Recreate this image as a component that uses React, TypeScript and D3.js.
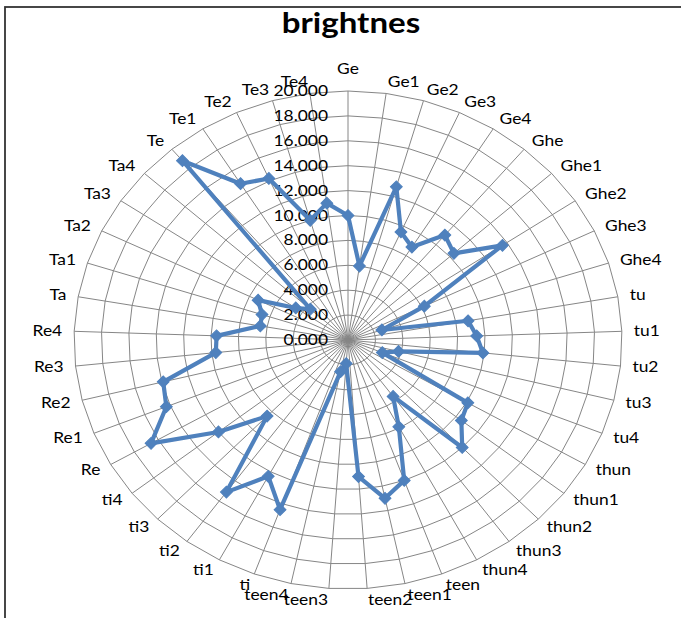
import * as d3 from "d3";
import React from "react";

// categories around the radar, clockwise from the top
const categories = [
  "Ge", "Ge1", "Ge2", "Ge3", "Ge4",
  "Ghe", "Ghe1", "Ghe2", "Ghe3", "Ghe4",
  "tu", "tu1", "tu2", "tu3", "tu4",
  "thun", "thun1", "thun2", "thun3", "thun4",
  "teen", "teen1", "teen2", "teen3", "teen4",
  "ti", "ti1", "ti2", "ti3", "ti4",
  "Re", "Re1", "Re2", "Re3", "Re4",
  "Ta", "Ta1", "Ta2", "Ta3", "Ta4",
  "Te", "Te1", "Te2", "Te3", "Te4",
];

// brightness values
const brightness = [
  10.0, 6.0, 12.8, 9.5, 8.8,
  11.0, 10.4, 13.6, 6.2, 2.6,
  8.9, 9.4, 9.9, 3.8, 2.7,
  10.1, 10.5, 12.0, 5.6, 7.9,
  12.0, 13.0, 11.0, 1.9, 2.6,
  14.5, 12.4, 15.1, 8.5, 12.0,
  16.6, 14.3, 13.9, 9.7, 9.6,
  6.5, 6.6, 7.3, 4.6, 3.7,
  18.8, 14.8, 14.2, 10.0, 11.1,
];

const tickValues = [0, 2, 4, 6, 8, 10, 12, 14, 16, 18, 20];

const W = 681;
const H = 618;
const cx = 348;
const cy = 340;
const blue = "#4F81BD";
const grid = "#868686";
const font = "Lato, 'Open Sans', sans-serif";
const textStretch = 1.2; // the picture is wider than it is tall

export default function App() {
  const n = categories.length;
  const angle = d3.scaleLinear().domain([0, n]).range([0, 2 * Math.PI]);
  const rx = d3.scaleLinear().domain([0, 20]).range([0, 274]);
  const ry = d3.scaleLinear().domain([0, 20]).range([0, 249]);
  const fmt = d3.format(".3f");

  const px = (i: number, v: number) => cx + rx(v) * Math.sin(angle(i));
  const py = (i: number, v: number) => cy - ry(v) * Math.cos(angle(i));

  // polygon through all spokes at a given value
  const ring = (v: number) =>
    d3
      .line<number>()
      .x((i) => px(i, v))
      .y((i) => py(i, v))
      .curve(d3.curveLinearClosed)(d3.range(n)) as string;

  const seriesLine = d3
    .line<number>()
    .x((d, i) => px(i, d))
    .y((d, i) => py(i, d))
    .curve(d3.curveLinearClosed);

  const marker = d3.symbol().type(d3.symbolSquare).size(70)() as string;

  return (
    <svg
      width={W}
      height={H}
      style={{ position: "absolute", left: 0, top: 0, background: "#fff" }}
    >
      <rect x={0} y={0} width={W} height={H} fill="#fff" />
      {/* chart area frame (runs off the right and bottom of the picture) */}
      <rect x={5} y={7} width={W + 20} height={H + 20} fill="none" stroke="#333" strokeWidth={1.8} />

      <text
        transform={`translate(351,33) scale(1.16,1)`}
        textAnchor="middle"
        fontFamily={font}
        fontWeight="bold"
        fontSize={28.5}
        fill="#000"
      >
        brightnes
      </text>

      {/* rings */}
      {tickValues.slice(1).map((v) => (
        <path key={"r" + v} d={ring(v)} fill="none" stroke={grid} strokeWidth={1} />
      ))}
      {/* spokes */}
      {categories.map((c, i) => (
        <line
          key={"s" + c}
          x1={cx}
          y1={cy}
          x2={px(i, 20)}
          y2={py(i, 20)}
          stroke={grid}
          strokeWidth={1}
        />
      ))}

      {/* value axis labels */}
      {tickValues.map((v) => (
        <text
          key={"t" + v}
          transform={`translate(${cx - 20},${cy - ry(v)}) scale(${textStretch},1)`}
          dy="0.35em"
          textAnchor="end"
          fontFamily={font}
          fontSize={14.5}
          fill="#000"
        >
          {fmt(v)}
        </text>
      ))}

      {/* category labels */}
      {categories.map((c, i) => {
        const a = angle(i);
        const s = Math.sin(a);
        const co = Math.cos(a);
        const mid = Math.abs(s) < 0.01;
        const x = px(i, 20) + 12 * s;
        const y = py(i, 20) - (mid ? 22 : 11.5) * co;
        return (
          <text
            key={"c" + c}
            transform={`translate(${x},${y}) scale(${textStretch},1)`}
            dy="0.35em"
            textAnchor={mid ? "middle" : s > 0 ? "start" : "end"}
            fontFamily={font}
            fontSize={14.5}
            fill="#000"
          >
            {c}
          </text>
        );
      })}

      {/* series */}
      <path
        d={seriesLine(brightness) as string}
        fill="none"
        stroke={blue}
        strokeWidth={4.2}
        strokeLinejoin="round"
      />
      {brightness.map((v, i) => (
        <path
          key={"m" + i}
          d={marker}
          transform={`translate(${px(i, v)},${py(i, v)}) rotate(45)`}
          fill={blue}
          stroke={blue}
          strokeWidth={1}
        />
      ))}
    </svg>
  );
}
